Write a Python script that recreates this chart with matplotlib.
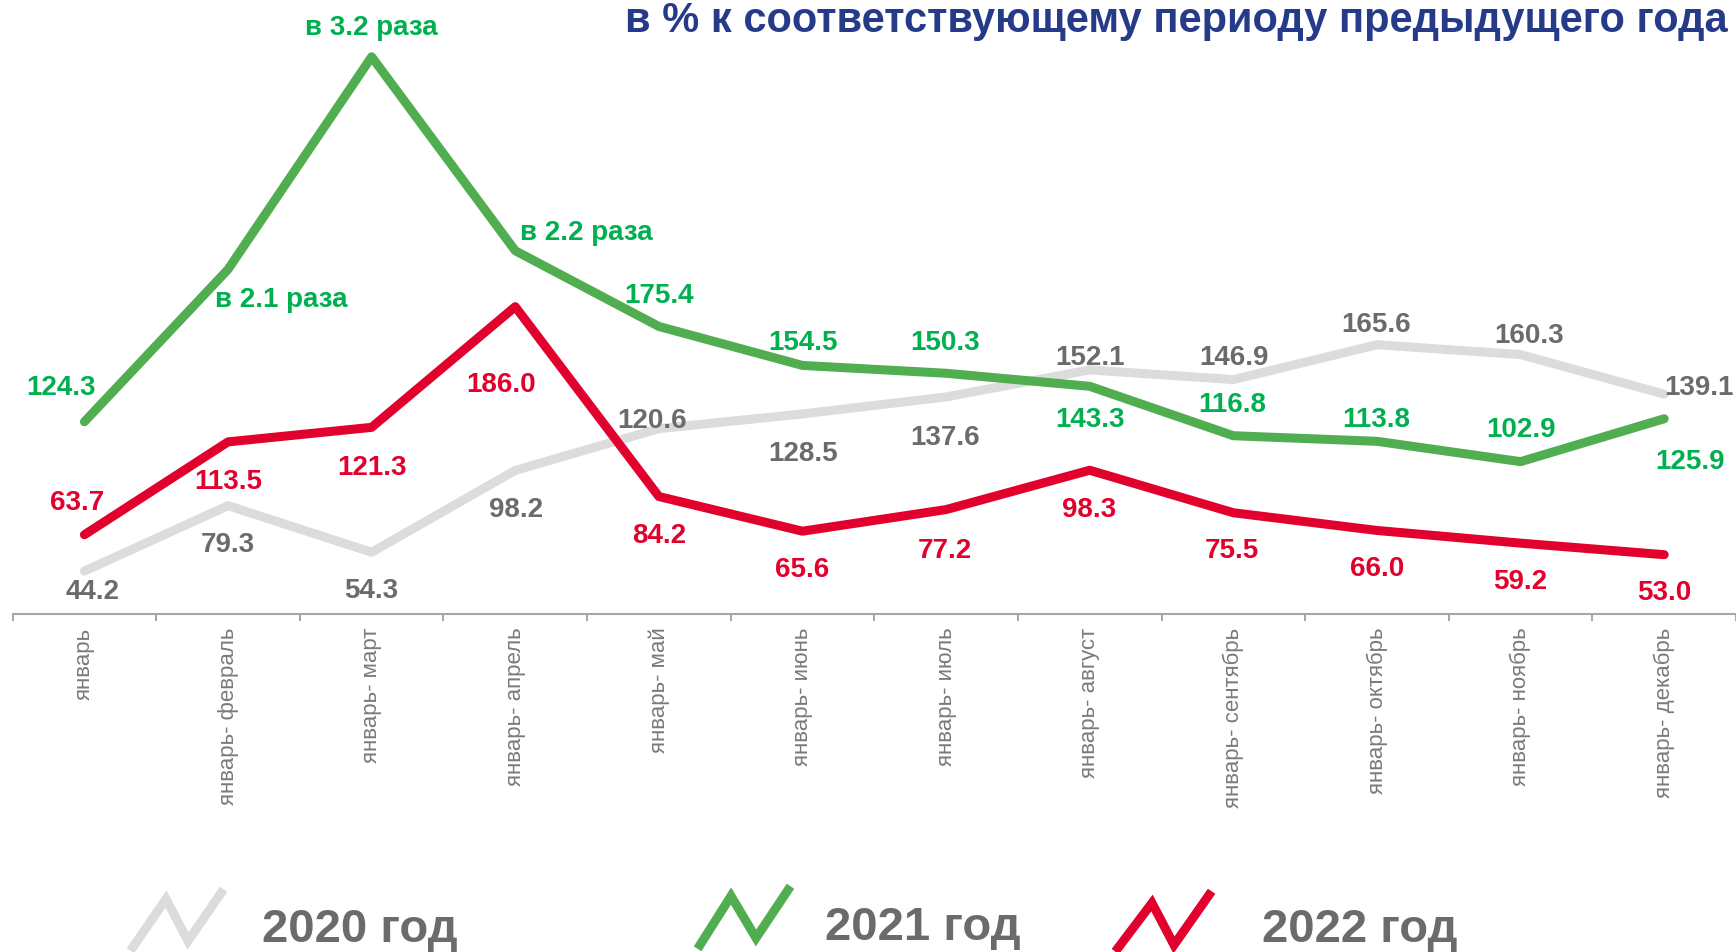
import matplotlib.pyplot as plt
from matplotlib.lines import Line2D

plt.rcParams['font.family'] = ['Liberation Sans', 'DejaVu Sans']

# Categories (cumulative periods)
periods = ["январь", "январь- февраль", "январь- март", "январь- апрель",
           "январь- май", "январь- июнь", "январь- июль", "январь- август",
           "январь- сентябрь", "январь- октябрь", "январь- ноябрь", "январь- декабрь"]

# Values, % to the same period of previous year
v2020 = [44.2, 79.3, 54.3, 98.2, 120.6, 128.5, 137.6, 152.1, 146.9, 165.6, 160.3, 139.1]
v2021 = [124.3, 206.0, 320.0, 216.0, 175.4, 154.5, 150.3, 143.3, 116.8, 113.8, 102.9, 125.9]
v2022 = [63.7, 113.5, 121.3, 186.0, 84.2, 65.6, 77.2, 98.3, 75.5, 66.0, 59.2, 53.0]

# label texts (big values shown as "в N раза")
t2020 = [f"{v:.1f}" for v in v2020]
t2021 = [f"{v:.1f}" for v in v2021]
t2021[1], t2021[2], t2021[3] = "в 2.1 раза", "в 3.2 раза", "в 2.2 раза"
t2022 = [f"{v:.1f}" for v in v2022]

# label offsets in pixels (dx, dy)
off2020 = [(8, -20), (0, -38), (0, -38), (1, -39), (-7, 9), (1, -39),
           (-1, -40), (0, 13), (1, 23), (-1, 21), (8, 20), (35, 7)]
off2021 = [(-23, 35), (53, -30), (0, 30), (71, 19), (0, 31), (1, 23),
           (-1, 31), (0, -33), (-1, 32), (-1, 22), (0, 33), (26, -42)]
off2022 = [(-7, 33), (0, -39), (0, -40), (-14, -77), (0, -38), (0, -38),
           (-1, -40), (-1, -39), (-1, -37), (0, -38), (0, -38), (0, -37)]

GREY_L, GREY_T = "#DCDCDC", "#6B6B6B"
GREEN_L, GREEN_T = "#50AE50", "#00B050"
RED_L, RED_T = "#E2002C", "#E2002C"

W, H = 1736, 953
fig = plt.figure(figsize=(W / 100, H / 100), dpi=100)
ax = fig.add_axes([12.6 / W, 1 - 615 / H, 1 - 12.6 / W, 615 / H])
ax.set_xlim(-0.5, 11.5)
ax.set_ylim(21.2, 351)

x = list(range(len(periods)))
for vals, col in [(v2020, GREY_L), (v2021, GREEN_L), (v2022, RED_L)]:
    ax.plot(x, vals, color=col, lw=6.5, solid_capstyle='round', clip_on=False)

for vals, texts, offs, col in [(v2020, t2020, off2020, GREY_T),
                               (v2021, t2021, off2021, GREEN_T),
                               (v2022, t2022, off2022, RED_T)]:
    for i, (v, t, o) in enumerate(zip(vals, texts, offs)):
        ax.annotate(t, (i, v), xytext=o, textcoords='offset pixels',
                    ha='center', va='center', fontsize=20, fontweight='bold',
                    color=col, annotation_clip=False)

for s in ['left', 'right', 'top']:
    ax.spines[s].set_visible(False)
ax.spines['bottom'].set_color('#A6A6A6')
ax.spines['bottom'].set_linewidth(1.5)
ax.set_yticks([])
ax.set_xticks(x)
ax.set_xticklabels(periods, rotation=90, fontsize=16, color='#7A7A7A')
ax.set_xticks([i - 0.5 for i in range(len(periods) + 1)], minor=True)
ax.tick_params(axis='x', which='major', length=0, pad=9)
ax.tick_params(axis='x', which='minor', length=5, width=1.5, color='#A6A6A6')

# title (runs off the right edge as in the slide)
fig.text(625 / W, 1 - 32 / H, "в % к соответствующему периоду предыдущего года",
         fontsize=30, fontweight='bold', color='#263A8A', va='baseline', ha='left')

# legend with zigzag icons
legend = [("2020 год", GREY_L, [(133, 948), (166, 900), (188, 942), (221, 894)], 262, 942),
          ("2021 год", GREEN_L, [(700, 946), (731, 897), (756, 939), (788, 891)], 825, 940),
          ("2022 год", RED_L, [(1118, 949), (1152, 904), (1174, 946), (1209, 896)], 1262, 942)]
for label, col, pts, tx, ty in legend:
    fig.add_artist(Line2D([p[0] / W for p in pts], [1 - p[1] / H for p in pts],
                          transform=fig.transFigure, color=col, lw=6.5,
                          solid_joinstyle='miter'))
    fig.text(tx / W, 1 - ty / H, label, fontsize=34, fontweight='bold',
             color='#6B6B6B', va='baseline', ha='left')

fig.savefig("out.png", dpi=100)
